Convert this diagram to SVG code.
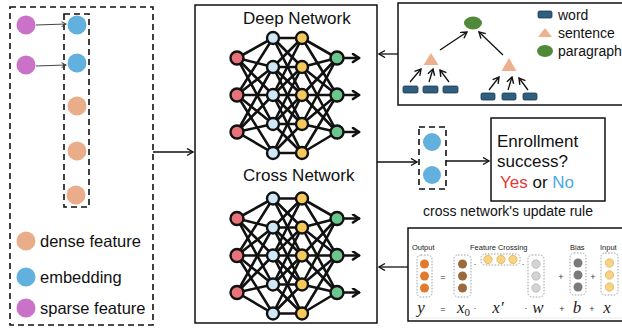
<svg xmlns="http://www.w3.org/2000/svg" xmlns:xlink="http://www.w3.org/1999/xlink" width="622" height="328" viewBox="0 0 622 328">
<style>
.t{font-family:"Liberation Sans",Arial,sans-serif;fill:#111}
.dash{fill:none;stroke:#111;stroke-width:1.6;stroke-dasharray:6 4}
.box{fill:#fff;stroke:#111;stroke-width:1.5}
.ln{fill:none;stroke:#111;stroke-width:1.3}
.nn line{stroke:#111;stroke-width:2.6;stroke-linecap:round}
.nn circle{stroke:#111;stroke-width:2.4}
.r{fill:#e8737a}.b{fill:#cfe8f6}.y{fill:#f6c95c}.g{fill:#6cc58c}
.fd{fill:none;stroke:#8a8a8a;stroke-width:0.8;stroke-dasharray:1.6 1.4}
.sm{font-family:"Liberation Sans",Arial,sans-serif;font-size:7.5px;fill:#222}
.m{font-family:"Liberation Serif","DejaVu Serif",serif;font-style:italic;font-size:17px;fill:#222}
.op{font-family:"Liberation Sans",Arial,sans-serif;font-size:9px;fill:#333}
</style>
<defs>
<marker id="ah" markerUnits="userSpaceOnUse" markerWidth="10" markerHeight="10" refX="7" refY="4" orient="auto">
<path d="M1,0.5 L7,4 L1,7.5" fill="none" stroke="#111" stroke-width="1.4"/>
</marker>
<marker id="ahs" markerUnits="userSpaceOnUse" markerWidth="8" markerHeight="8" refX="5" refY="3" orient="auto">
<path d="M0.5,0.5 L5,3 L0.5,5.5" fill="none" stroke="#444" stroke-width="1"/>
</marker>
<marker id="ahb" markerUnits="userSpaceOnUse" markerWidth="12" markerHeight="12" refX="8" refY="5" orient="auto">
<path d="M2,1 L8,5 L2,9" fill="none" stroke="#111" stroke-width="2.6" stroke-linejoin="round" stroke-linecap="round"/>
</marker>
<g id="nn" class="nn">
<!-- red to blue -->
<line x1="237" y1="58" x2="273" y2="38"/><line x1="237" y1="58" x2="273" y2="67"/><line x1="237" y1="58" x2="273" y2="95"/><line x1="237" y1="58" x2="273" y2="124"/>
<line x1="237" y1="95" x2="273" y2="38"/><line x1="237" y1="95" x2="273" y2="67"/><line x1="237" y1="95" x2="273" y2="95"/><line x1="237" y1="95" x2="273" y2="124"/><line x1="237" y1="95" x2="273" y2="153"/>
<line x1="237" y1="132" x2="273" y2="67"/><line x1="237" y1="132" x2="273" y2="95"/><line x1="237" y1="132" x2="273" y2="124"/><line x1="237" y1="132" x2="273" y2="153"/>
<!-- blue to yellow -->
<line x1="273" y1="38" x2="302" y2="38"/><line x1="273" y1="38" x2="302" y2="67"/><line x1="273" y1="38" x2="302" y2="95"/>
<line x1="273" y1="67" x2="302" y2="38"/><line x1="273" y1="67" x2="302" y2="67"/><line x1="273" y1="67" x2="302" y2="95"/><line x1="273" y1="67" x2="302" y2="124"/>
<line x1="273" y1="95" x2="302" y2="38"/><line x1="273" y1="95" x2="302" y2="67"/><line x1="273" y1="95" x2="302" y2="95"/><line x1="273" y1="95" x2="302" y2="124"/><line x1="273" y1="95" x2="302" y2="153"/>
<line x1="273" y1="124" x2="302" y2="67"/><line x1="273" y1="124" x2="302" y2="95"/><line x1="273" y1="124" x2="302" y2="124"/><line x1="273" y1="124" x2="302" y2="153"/>
<line x1="273" y1="153" x2="302" y2="95"/><line x1="273" y1="153" x2="302" y2="124"/><line x1="273" y1="153" x2="302" y2="153"/>
<!-- yellow to green -->
<line x1="302" y1="38" x2="337" y2="58"/><line x1="302" y1="38" x2="337" y2="95"/>
<line x1="302" y1="67" x2="337" y2="58"/><line x1="302" y1="67" x2="337" y2="95"/><line x1="302" y1="67" x2="337" y2="132"/>
<line x1="302" y1="95" x2="337" y2="58"/><line x1="302" y1="95" x2="337" y2="95"/><line x1="302" y1="95" x2="337" y2="132"/>
<line x1="302" y1="124" x2="337" y2="58"/><line x1="302" y1="124" x2="337" y2="95"/><line x1="302" y1="124" x2="337" y2="132"/>
<line x1="302" y1="153" x2="337" y2="95"/><line x1="302" y1="153" x2="337" y2="132"/>
<!-- outputs -->
<line x1="337" y1="58" x2="359" y2="58" marker-end="url(#ahb)"/>
<line x1="337" y1="95" x2="359" y2="95" marker-end="url(#ahb)"/>
<line x1="337" y1="132" x2="359" y2="132" marker-end="url(#ahb)"/>
<circle class="r" cx="237" cy="58" r="6.5"/><circle class="r" cx="237" cy="95" r="6.5"/><circle class="r" cx="237" cy="132" r="6.5"/>
<circle class="b" cx="273" cy="38" r="6"/><circle class="b" cx="273" cy="67" r="6"/><circle class="b" cx="273" cy="95" r="6"/><circle class="b" cx="273" cy="124" r="6"/><circle class="b" cx="273" cy="153" r="6"/>
<circle class="y" cx="302" cy="38" r="6"/><circle class="y" cx="302" cy="67" r="6"/><circle class="y" cx="302" cy="95" r="6"/><circle class="y" cx="302" cy="124" r="6"/><circle class="y" cx="302" cy="153" r="6"/>
<circle class="g" cx="337" cy="58" r="6.5"/><circle class="g" cx="337" cy="95" r="6.5"/><circle class="g" cx="337" cy="132" r="6.5"/>
</g>
</defs>

<g id="input-panel">
<rect class="dash" x="10" y="7" width="143" height="318"/>
<rect class="dash" x="64" y="14" width="25" height="193"/>
<circle cx="26" cy="25" r="9.5" fill="#c972c7"/>
<circle cx="26" cy="65" r="9.5" fill="#c972c7"/>
<circle cx="77" cy="25" r="9.5" fill="#62b0de"/>
<circle cx="77" cy="63" r="9.5" fill="#62b0de"/>
<circle cx="77" cy="106" r="9.5" fill="#e9ae89"/>
<circle cx="77" cy="151" r="9.5" fill="#e9ae89"/>
<circle cx="76" cy="195" r="9.5" fill="#e9ae89"/>
<line x1="36" y1="25" x2="66" y2="24" stroke="#444" stroke-width="1" marker-end="url(#ahs)"/>
<line x1="36" y1="66" x2="66" y2="65" stroke="#444" stroke-width="1" marker-end="url(#ahs)"/>
<circle cx="26" cy="241" r="9.5" fill="#e9ae89"/>
<text class="t" x="40" y="247" font-size="16.5">dense feature</text>
<circle cx="26" cy="277" r="9.5" fill="#62b0de"/>
<text class="t" x="40" y="283" font-size="16.5">embedding</text>
<circle cx="26" cy="308" r="9.5" fill="#c972c7"/>
<text class="t" x="40" y="314" font-size="16.5">sparse feature</text>
</g>

<g id="network-box">
<rect class="box" x="195" y="5" width="182" height="318"/>
<text class="t" x="243" y="24" font-size="17">Deep Network</text>
<use xlink:href="#nn"/>
<text class="t" x="243" y="181" font-size="17">Cross Network</text>
<use xlink:href="#nn" transform="translate(0,160.5)"/>
</g>

<g id="tree-panel">
<rect class="box" x="398" y="3" width="230" height="102"/>
<ellipse cx="473" cy="23" rx="9" ry="6.5" fill="#4e8a3a"/>
<polygon points="431,53 423.5,65 438.5,65" fill="#eeb08f"/>
<polygon points="509,58 501.5,71 516.5,71" fill="#eeb08f"/>
<g fill="#2f5e7f" stroke="#1d3b52" stroke-width="0.8">
<rect x="403" y="86" width="15" height="7" rx="1.5"/>
<rect x="423" y="86" width="15" height="7" rx="1.5"/>
<rect x="443" y="86" width="15" height="7" rx="1.5"/>
<rect x="481" y="93" width="14" height="7" rx="1.5"/>
<rect x="502" y="93" width="14" height="7" rx="1.5"/>
<rect x="523" y="93" width="14" height="7" rx="1.5"/>
<rect x="538" y="11" width="14" height="7" rx="1.5"/>
</g>
<g class="ln" stroke-width="1.4">
<line x1="440" y1="50" x2="467" y2="32" marker-end="url(#ah)"/>
<line x1="503" y1="55" x2="479" y2="32" marker-end="url(#ah)"/>
<line x1="410" y1="82" x2="421" y2="69" marker-end="url(#ah)"/>
<line x1="429" y1="82" x2="433" y2="69" marker-end="url(#ah)"/>
<line x1="449" y1="82" x2="440" y2="70" marker-end="url(#ah)"/>
<line x1="489" y1="90" x2="499" y2="77" marker-end="url(#ah)"/>
<line x1="508" y1="90" x2="512" y2="77" marker-end="url(#ah)"/>
<line x1="528" y1="90" x2="519" y2="78" marker-end="url(#ah)"/>
</g>
<polygon points="545,28 538,37 552,37" fill="#eeb08f"/>
<ellipse cx="545" cy="51" rx="8" ry="6" fill="#4e8a3a"/>
<text class="t" x="558" y="20" font-size="14">word</text>
<text class="t" x="558" y="38" font-size="14">sentence</text>
<text class="t" x="558" y="56" font-size="14">paragraph</text>
</g>

<g id="output-vector">
<rect class="dash" x="419" y="127" width="27" height="62" stroke-dasharray="5 3.5" stroke-width="1.4"/>
<circle cx="432" cy="142" r="9" fill="#62b0de"/>
<circle cx="432" cy="175" r="9" fill="#62b0de"/>
</g>

<g id="result-box">
<rect class="box" x="491" y="118" width="114" height="83"/>
<text class="t" x="497" y="147" font-size="17">Enrollment</text>
<text class="t" x="497" y="167" font-size="17">success?</text>
<text class="t" x="500" y="188" font-size="17"><tspan fill="#e53935">Yes</tspan> or <tspan fill="#4aa8e8">No</tspan></text>
</g>

<text class="t" x="508" y="216" font-size="14" text-anchor="middle">cross network's update rule</text>

<g id="formula-panel">
<rect class="box" x="408" y="228" width="220" height="93"/>
<line x1="410" y1="318" x2="622" y2="318" stroke="#e4e4e4" stroke-width="0.8"/>
<text class="sm" x="412" y="250">Output</text>
<text class="sm" x="470" y="250">Feature Crossing</text>
<text class="sm" x="570" y="250">Bias</text>
<text class="sm" x="600" y="250">Input</text>
<rect class="fd" x="417" y="255" width="15" height="42" rx="4"/>
<g fill="#e27a2c"><circle cx="424.5" cy="264" r="4.5"/><circle cx="424.5" cy="276" r="4.5"/><circle cx="424.5" cy="288" r="4.5"/></g>
<text class="op" x="443" y="280" text-anchor="middle">=</text>
<rect class="fd" x="454" y="255" width="17" height="42" rx="4"/>
<g fill="#9a6a3c"><circle cx="462.5" cy="264" r="4.5"/><circle cx="462.5" cy="276" r="4.5"/><circle cx="462.5" cy="288" r="4.5"/></g>
<text class="op" x="475" y="267" text-anchor="middle">·</text>
<rect class="fd" x="481" y="254" width="39" height="11" rx="4"/>
<g fill="#f7d383" stroke="#d9a640" stroke-width="0.6"><circle cx="488" cy="259.5" r="4.2"/><circle cx="501" cy="259.5" r="4.2"/><circle cx="513" cy="259.5" r="4.2"/></g>
<text class="op" x="523" y="267" text-anchor="middle">·</text>
<rect class="fd" x="528" y="255" width="16" height="42" rx="4"/>
<g fill="#d4d4d4" stroke="#a8a8a8" stroke-width="0.6"><circle cx="536" cy="264" r="4.2"/><circle cx="536" cy="276" r="4.2"/><circle cx="536" cy="288" r="4.2"/></g>
<text class="op" x="561" y="280" text-anchor="middle">+</text>
<rect class="fd" x="570" y="253" width="16" height="42" rx="4"/>
<g fill="#7a7a7a"><circle cx="578" cy="263" r="4.5"/><circle cx="578" cy="275" r="4.5"/><circle cx="578" cy="287" r="4.5"/></g>
<text class="op" x="593" y="280" text-anchor="middle">+</text>
<rect class="fd" x="601" y="253" width="17" height="42" rx="4"/>
<g fill="#f7d383" stroke="#d9a640" stroke-width="0.6"><circle cx="609.5" cy="263" r="4.2"/><circle cx="609.5" cy="275" r="4.2"/><circle cx="609.5" cy="287" r="4.2"/></g>
<text class="m" x="421" y="313" text-anchor="middle">y</text>
<text class="op" x="443" y="312" text-anchor="middle">=</text>
<text class="m" x="457" y="313">x<tspan font-size="11" dy="3" font-style="normal">0</tspan></text>
<text class="op" x="475" y="311" text-anchor="middle">·</text>
<text class="m" x="498" y="313" text-anchor="middle">x′</text>
<text class="op" x="526" y="311" text-anchor="middle">·</text>
<text class="m" x="538" y="313" text-anchor="middle">w</text>
<text class="op" x="562" y="312" text-anchor="middle">+</text>
<text class="m" x="577" y="313" text-anchor="middle">b</text>
<text class="op" x="592" y="312" text-anchor="middle">+</text>
<text class="m" x="607" y="313" text-anchor="middle">x</text>
</g>

<g id="connectors" class="ln">
<line x1="153" y1="152" x2="193" y2="152" marker-end="url(#ah)"/>
<line x1="398" y1="54" x2="379" y2="54" marker-end="url(#ah)"/>
<line x1="377" y1="162" x2="417" y2="162" marker-end="url(#ah)"/>
<line x1="446" y1="161" x2="489" y2="161" marker-end="url(#ah)"/>
<line x1="408" y1="267" x2="379" y2="267" marker-end="url(#ah)"/>
</g>
</svg>
